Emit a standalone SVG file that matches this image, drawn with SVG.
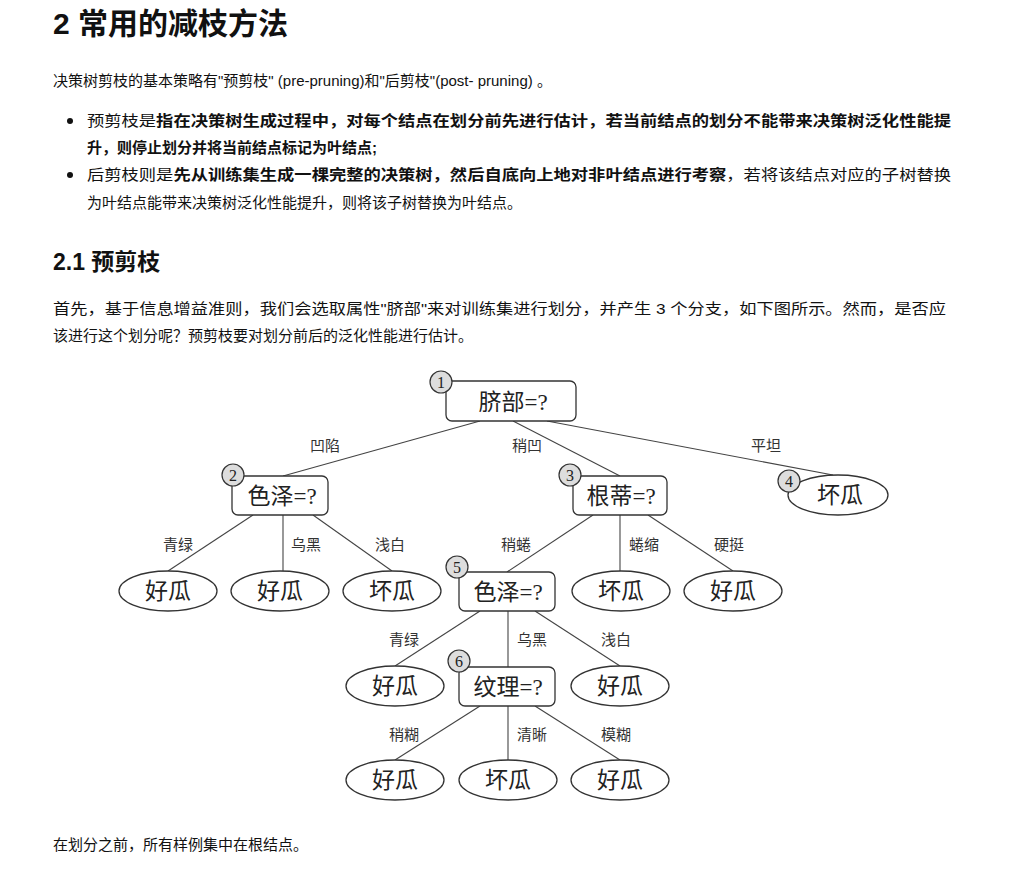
<svg xmlns="http://www.w3.org/2000/svg" width="1022" height="893" viewBox="0 0 1022 893">
<style>
.t{font-family:"Liberation Sans","Noto Sans CJK SC",sans-serif;font-size:15px;fill:#111}
.b{font-weight:bold}
.box{fill:#fff;stroke:#333;stroke-width:1.3}
.num{fill:#ddd;stroke:#333;stroke-width:1.2}
.nt{font-family:"Liberation Serif","Noto Sans CJK SC",serif;font-size:23px;fill:#222;text-anchor:middle}
.nn{font-family:"Liberation Serif",serif;font-size:16px;fill:#222;text-anchor:middle}
.el{font-family:"Noto Sans CJK SC",sans-serif;font-size:15px;fill:#333;text-anchor:middle}
.e line{stroke:#444;stroke-width:1.1}
</style>
<rect width="1022" height="893" fill="#fff"/>
<text x="53" y="34" class="t b" style="font-size:30px">2 常用的减枝方法</text>
<text x="53" y="86" class="t">决策树剪枝的基本策略有"预剪枝" (pre-pruning)和"后剪枝"(post- pruning) 。</text>
<circle cx="70" cy="121" r="3" fill="#111"/>
<text x="87" y="126" class="t" textLength="864" lengthAdjust="spacingAndGlyphs">预剪枝是<tspan class="b">指在决策树生成过程中，对每个结点在划分前先进行估计，若当前结点的划分不能带来决策树泛化性能提</tspan></text>
<text x="87" y="153" class="t b">升，则停止划分并将当前结点标记为叶结点;</text>
<circle cx="70" cy="175" r="3" fill="#111"/>
<text x="87" y="180" class="t" textLength="864" lengthAdjust="spacingAndGlyphs">后剪枝则是<tspan class="b">先从训练集生成一棵完整的决策树，然后自底向上地对非叶结点进行考察</tspan>，若将该结点对应的子树替换</text>
<text x="87" y="208" class="t">为叶结点能带来决策树泛化性能提升，则将该子树替换为叶结点。</text>
<text x="53" y="270" class="t b" style="font-size:23px">2.1 预剪枝</text>
<text x="53" y="314" class="t" textLength="893" lengthAdjust="spacingAndGlyphs">首先，基于信息增益准则，我们会选取属性"脐部"来对训练集进行划分，并产生 3 个分支，如下图所示。然而，是否应</text>
<text x="53" y="341" class="t">该进行这个划分呢？预剪枝要对划分前后的泛化性能进行估计。</text>
<text x="53" y="850" class="t">在划分之前，所有样例集中在根结点。</text>

<g class="e" id="connectors">
<line x1="480" y1="421" x2="283" y2="476"/>
<line x1="513" y1="421" x2="620" y2="476"/>
<line x1="547" y1="421" x2="833" y2="475"/>
<line x1="253" y1="515" x2="168" y2="571"/>
<line x1="283" y1="515" x2="283" y2="571"/>
<line x1="313" y1="515" x2="392" y2="571"/>
<line x1="593" y1="515" x2="507" y2="572"/>
<line x1="620" y1="515" x2="620" y2="571"/>
<line x1="648" y1="515" x2="733" y2="571"/>
<line x1="480" y1="611" x2="395" y2="666"/>
<line x1="508" y1="611" x2="508" y2="667"/>
<line x1="535" y1="611" x2="620" y2="666"/>
<line x1="480" y1="706" x2="395" y2="760"/>
<line x1="508" y1="706" x2="508" y2="760"/>
<line x1="535" y1="706" x2="620" y2="760"/>
<text x="325" y="451" class="el">凹陷</text>
<text x="527" y="451" class="el">稍凹</text>
<text x="766" y="451" class="el">平坦</text>
<text x="178" y="550" class="el">青绿</text>
<text x="306" y="550" class="el">乌黑</text>
<text x="390" y="550" class="el">浅白</text>
<text x="516" y="550" class="el">稍蜷</text>
<text x="644" y="550" class="el">蜷缩</text>
<text x="729" y="550" class="el">硬挺</text>
<text x="404" y="645" class="el">青绿</text>
<text x="532" y="645" class="el">乌黑</text>
<text x="616" y="645" class="el">浅白</text>
<text x="404" y="740" class="el">稍糊</text>
<text x="532" y="740" class="el">清晰</text>
<text x="616" y="740" class="el">模糊</text>
</g>

<g id="n1"><rect class="box" x="446" y="381" width="130" height="40" rx="6"/><text x="513" y="410" class="nt">脐部=?</text><circle class="num" cx="441" cy="382" r="11"/><text x="441" y="388" class="nn">1</text></g>
<g id="n2"><rect class="box" x="232" y="476" width="96" height="39" rx="6"/><text x="282" y="504" class="nt">色泽=?</text><circle class="num" cx="233" cy="475" r="11"/><text x="233" y="481" class="nn">2</text></g>
<g id="n3"><rect class="box" x="573" y="476" width="94" height="39" rx="6"/><text x="621" y="504" class="nt">根蒂=?</text><circle class="num" cx="570" cy="475" r="11"/><text x="570" y="481" class="nn">3</text></g>
<g id="n4"><ellipse class="box" cx="838" cy="495" rx="50" ry="20"/><text x="840" y="503" class="nt">坏瓜</text><circle class="num" cx="789" cy="481" r="11"/><text x="789" y="487" class="nn">4</text></g>
<g id="l1"><ellipse class="box" cx="168" cy="591" rx="49" ry="20"/><text x="168" y="599" class="nt">好瓜</text></g>
<g id="l2"><ellipse class="box" cx="280" cy="591" rx="49" ry="20"/><text x="280" y="599" class="nt">好瓜</text></g>
<g id="l3"><ellipse class="box" cx="392" cy="591" rx="49" ry="20"/><text x="392" y="599" class="nt">坏瓜</text></g>
<g id="n5"><rect class="box" x="459" y="572" width="96" height="39" rx="6"/><text x="508" y="600" class="nt">色泽=?</text><circle class="num" cx="457" cy="567" r="11"/><text x="457" y="573" class="nn">5</text></g>
<g id="l4"><ellipse class="box" cx="621" cy="591" rx="49" ry="20"/><text x="621" y="599" class="nt">坏瓜</text></g>
<g id="l5"><ellipse class="box" cx="733" cy="591" rx="49" ry="20"/><text x="733" y="599" class="nt">好瓜</text></g>
<g id="l6"><ellipse class="box" cx="395" cy="686" rx="49" ry="20"/><text x="395" y="694" class="nt">好瓜</text></g>
<g id="n6"><rect class="box" x="459" y="667" width="96" height="39" rx="6"/><text x="508" y="695" class="nt">纹理=?</text><circle class="num" cx="459" cy="661" r="11"/><text x="459" y="667" class="nn">6</text></g>
<g id="l7"><ellipse class="box" cx="620" cy="686" rx="49" ry="20"/><text x="620" y="694" class="nt">好瓜</text></g>
<g id="l8"><ellipse class="box" cx="395" cy="780" rx="49" ry="20"/><text x="395" y="788" class="nt">好瓜</text></g>
<g id="l9"><ellipse class="box" cx="508" cy="780" rx="49" ry="20"/><text x="508" y="788" class="nt">坏瓜</text></g>
<g id="l10"><ellipse class="box" cx="620" cy="780" rx="49" ry="20"/><text x="620" y="788" class="nt">好瓜</text></g>
</svg>
